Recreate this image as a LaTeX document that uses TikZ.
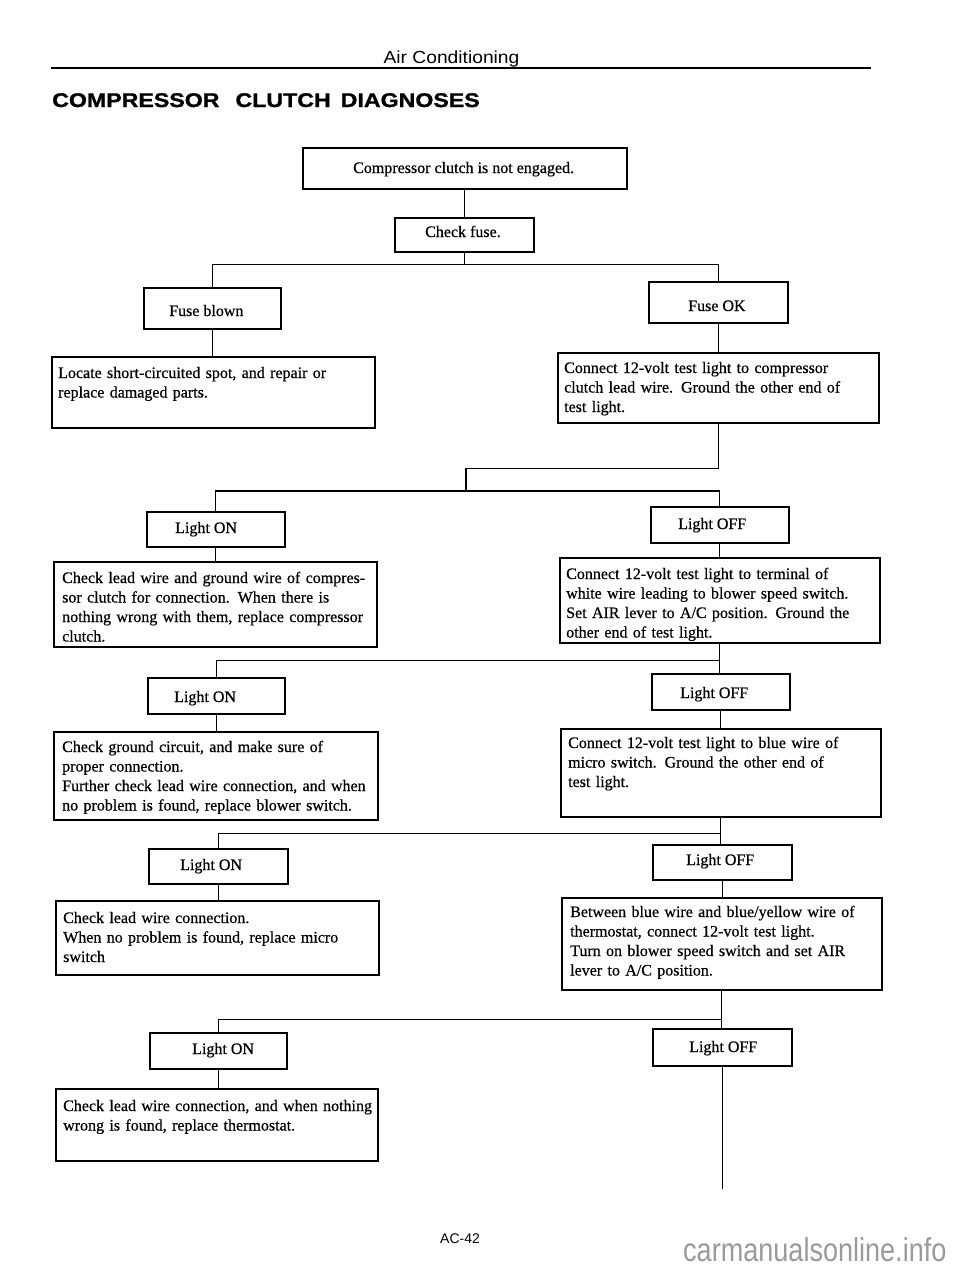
\documentclass[tikz,border=0pt]{standalone}
\usepackage{fontspec}
\setmainfont{Liberation Serif}[FakeBold=0.5]
\newfontfamily\hdfont{Liberation Sans}[FakeStretch=1.1]
\newfontfamily\ttlfont{Liberation Sans}[FakeStretch=1.17,FakeBold=1.2]
\newfontfamily\plainsans{Liberation Sans}
\newfontfamily\wmfont{Liberation Sans}[FakeStretch=0.82]
\definecolor{wmgray}{HTML}{9A9A9A}
\tikzset{
  box/.style={draw, line width=1.6pt, inner sep=0pt, anchor=north west},
  lbl/.style={inner sep=0pt, anchor=base west, font=\fontsize{16}{19.5}\selectfont},
  para/.style={inner sep=0pt, anchor=base west, text width=330pt, align=left, font=\fontsize{16}{19.5}\selectfont},
  conn/.style={line width=1.2pt},
}
\newcommand\mkbox[5]{\node[box, minimum width={#4pt-#2pt}, minimum height={#5pt-#3pt}] (#1) at (#2,#3) {};}
\begin{document}
\begin{tikzpicture}[x=1pt,y=-1pt]
\useasboundingbox (0,0) rectangle (960,1270);
\fill[white] (0,0) rectangle (960,1270);

% header
\node[inner sep=0pt, anchor=base, font=\hdfont\fontsize{17.5}{20}\selectfont] (hdr) at (451.5,63) {Air Conditioning};
\coordinate (rl) at (51,68);
\coordinate (rr) at (871,68);
\draw[line width=2.5pt] (rl) -- (rr);
\node[inner sep=0pt, anchor=base west, font=\ttlfont\bfseries\fontsize{19.8}{22}\selectfont] (title) at (52,107) {COMPRESSOR\hspace{16pt}CLUTCH\hspace{10pt}DIAGNOSES};

% boxes
\mkbox{b1}{302}{147}{626}{188}
\mkbox{fuse}{394}{217}{533}{251}
\mkbox{blown}{143}{287}{280}{328}
\mkbox{locate}{51}{356}{374}{427}
\mkbox{fok}{648}{281}{787}{322}
\mkbox{con1}{557}{352}{878}{422}
\mkbox{on1}{146}{511}{284}{546}
\mkbox{lead1}{53}{561}{376}{646}
\mkbox{off1}{650}{506}{788}{542}
\mkbox{con2}{559}{557}{879}{642}
\mkbox{on2}{147}{677}{284}{713}
\mkbox{ground}{53}{731}{377}{819}
\mkbox{off2}{651}{673}{789}{709}
\mkbox{con3}{560}{728}{880}{816}
\mkbox{on3}{148}{848}{287}{883}
\mkbox{lead3}{55}{900}{378}{974}
\mkbox{off3}{652}{844}{791}{879}
\mkbox{betw}{561}{897}{881}{989}
\mkbox{on4}{149}{1032}{286}{1068}
\mkbox{thermo}{55}{1088}{377}{1160}
\mkbox{off4}{652}{1028}{791}{1065}

% labels
\node[lbl] (t-b1) at (353,173) {Compressor clutch is not engaged.};
\node[lbl] (t-fuse) at (425,237) {Check fuse.};
\node[lbl] (t-blown) at (169,316) {Fuse blown};
\node[lbl] (t-fok) at (688,311) {Fuse OK};
\node[lbl] (t-on1) at (175,533) {Light ON};
\node[lbl] (t-off1) at (678,529) {Light OFF};
\node[lbl] (t-on2) at (174,702) {Light ON};
\node[lbl] (t-off2) at (680,698) {Light OFF};
\node[lbl] (t-on3) at (180,870) {Light ON};
\node[lbl] (t-off3) at (686,865) {Light OFF};
\node[lbl] (t-on4) at (192,1054) {Light ON};
\node[lbl] (t-off4) at (689,1052) {Light OFF};

\node[para] (t-locate) at (58,378) {Locate short-circuited spot, and repair or\\replace damaged parts.};
\node[para] (t-con1) at (564,373) {Connect 12-volt test light to compressor\\clutch lead wire.  Ground the other end of\\test light.};
\node[para] (t-lead1) at (62,583) {Check lead wire and ground wire of compres-\\sor clutch for connection.  When there is\\nothing wrong with them, replace compressor\\clutch.};
\node[para] (t-con2) at (566,579) {Connect 12-volt test light to terminal of\\white wire leading to blower speed switch.\\Set AIR lever to A/C position.  Ground the\\other end of test light.};
\node[para] (t-ground) at (62,752) {Check ground circuit, and make sure of\\proper connection.\\Further check lead wire connection, and when\\no problem is found, replace blower switch.};
\node[para] (t-con3) at (568,748) {Connect 12-volt test light to blue wire of\\micro switch.  Ground the other end of\\test light.};
\node[para] (t-lead3) at (63,923) {Check lead wire connection.\\When no problem is found, replace micro\\switch};
\node[para] (t-betw) at (570,917) {Between blue wire and blue/yellow wire of\\thermostat, connect 12-volt test light.\\Turn on blower speed switch and set AIR\\lever to A/C position.};
\node[para] (t-thermo) at (63,1111) {Check lead wire connection, and when nothing\\wrong is found, replace thermostat.};

% connectors
\draw[conn] (b1.south -| fuse.north) -- (fuse.north);
\coordinate (j1) at ([yshift=-12pt]fuse.south);
\draw[conn] (fuse.south) -- (j1);
\draw[conn] (blown.north) |- (j1) -| (fok.north);
\draw[conn] (blown.south) -- (blown.south |- locate.north);
\draw[conn] (fok.south) -- (fok.south |- con1.north);

\coordinate (j2a) at ([yshift=-45pt]con1.south);
\coordinate (j2) at (466,491);
\draw[conn] (con1.south) -- (j2a) -| (j2);
\draw[conn] (on1.north) |- (j2) -| (off1.north);
\draw[conn] (on1.south) -- (on1.south |- lead1.north);
\draw[conn] (off1.south) -- (off1.south |- con2.north);

\coordinate (j3) at ([yshift=-17pt]con2.south);
\draw[conn] (con2.south) -- (con2.south |- off2.north);
\draw[conn] (on2.north) |- (j3);
\draw[conn] (on2.south) -- (on2.south |- ground.north);
\draw[conn] (off2.south) -- (off2.south |- con3.north);

\coordinate (j4) at ([yshift=-16pt]con3.south);
\draw[conn] (con3.south) -- (con3.south |- off3.north);
\draw[conn] (on3.north) |- (j4);
\draw[conn] (on3.south) -- (on3.south |- lead3.north);
\draw[conn] (off3.south) -- (off3.south |- betw.north);

\coordinate (j5) at ([yshift=-29pt]betw.south);
\draw[conn] (betw.south) -- (betw.south |- off4.north);
\draw[conn] (on4.north) |- (j5);
\draw[conn] (on4.south) -- (on4.south |- thermo.north);
\coordinate (endp) at ([yshift=-122pt]off4.south);
\draw[conn] (off4.south) -- (endp);

% footer
\node[inner sep=0pt, anchor=base, font=\plainsans\fontsize{14}{17}\selectfont] (page) at (460,1243) {AC-42};
\node[inner sep=0pt, anchor=base west, text=wmgray, font=\wmfont\fontsize{33}{36}\selectfont] (wm) at (683,1261) {carmanualsonline.info};
\end{tikzpicture}
\end{document}
